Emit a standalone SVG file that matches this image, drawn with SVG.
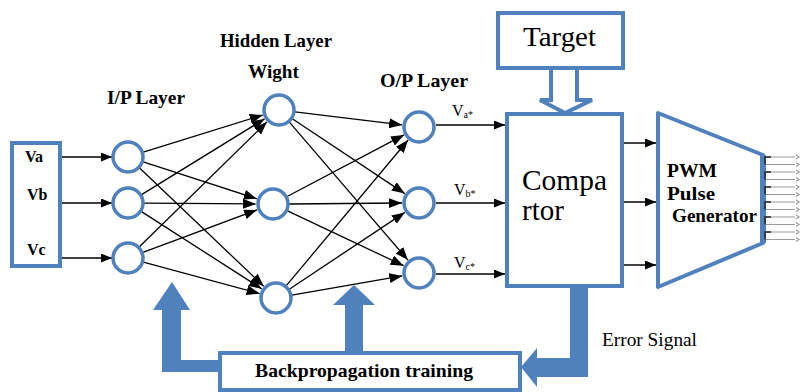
<svg xmlns="http://www.w3.org/2000/svg" width="801" height="392" viewBox="0 0 801 392">
<defs>
<style>
.box{fill:#fff;stroke:#4f81bd;stroke-width:4}
.node{fill:#fff;stroke:#4f81bd;stroke-width:3.5}
.ln{stroke:#000;stroke-width:1.3;fill:none}
.big{fill:#4f81bd;stroke:none}
.lb{font-family:'Liberation Serif','Times New Roman','DejaVu Serif',serif;font-weight:bold;fill:#000}
.rg{font-family:'Liberation Serif','Times New Roman','DejaVu Serif',serif;fill:#000}
.pin{stroke:#999;stroke-width:1.2;fill:none}
.pk{stroke:#222;stroke-width:1.4;fill:none}
</style>
<marker id="ah" markerUnits="userSpaceOnUse" markerWidth="14" markerHeight="12" refX="13" refY="5" orient="auto">
<path d="M0,0 L13,5 L0,10 Z" fill="#000"/>
</marker>
<marker id="as" markerUnits="userSpaceOnUse" markerWidth="12" markerHeight="10" refX="11" refY="4.5" orient="auto">
<path d="M0,0 L11,4.5 L0,9 Z" fill="#000"/>
</marker>
</defs>
<rect width="801" height="392" fill="#fff"/>

<g id="connectors">
<line class="ln" x1="62" y1="157" x2="112" y2="157" marker-end="url(#as)"/>
<line class="ln" x1="62" y1="203" x2="112" y2="203" marker-end="url(#as)"/>
<line class="ln" x1="62" y1="258" x2="112" y2="258" marker-end="url(#as)"/>

<line class="ln" x1="143.3" y1="152.2" x2="262.8" y2="115" marker-end="url(#ah)"/>
<line class="ln" x1="143.2" y1="161.9" x2="256.8" y2="198.8" marker-end="url(#ah)"/>
<line class="ln" x1="139.6" y1="168" x2="263.7" y2="286.3" marker-end="url(#ah)"/>
<line class="ln" x1="141.6" y1="194.6" x2="264.5" y2="118.9" marker-end="url(#ah)"/>
<line class="ln" x1="144" y1="203.1" x2="256" y2="203.9" marker-end="url(#ah)"/>
<line class="ln" x1="141.5" y1="211.6" x2="261.7" y2="288.8" marker-end="url(#ah)"/>
<line class="ln" x1="139.4" y1="246.8" x2="266.9" y2="121.9" marker-end="url(#ah)"/>
<line class="ln" x1="143" y1="252.4" x2="257.1" y2="209.9" marker-end="url(#ah)"/>
<line class="ln" x1="143.4" y1="262.2" x2="259.6" y2="293.6" marker-end="url(#ah)"/>

<line class="ln" x1="294.9" y1="111.9" x2="402.1" y2="124.9" marker-end="url(#ah)"/>
<line class="ln" x1="292.3" y1="118.8" x2="404.8" y2="193.6" marker-end="url(#ah)"/>
<line class="ln" x1="289.4" y1="122.1" x2="407.9" y2="260.1" marker-end="url(#ah)"/>
<line class="ln" x1="287.1" y1="196.5" x2="404" y2="134.9" marker-end="url(#ah)"/>
<line class="ln" x1="289" y1="204" x2="402" y2="203" marker-end="url(#ah)"/>
<line class="ln" x1="287.5" y1="210.8" x2="403.6" y2="265.7" marker-end="url(#ah)"/>
<line class="ln" x1="286.3" y1="285.7" x2="408.1" y2="140" marker-end="url(#ah)"/>
<line class="ln" x1="289.3" y1="289.2" x2="404.8" y2="212.4" marker-end="url(#ah)"/>
<line class="ln" x1="291.8" y1="295.2" x2="402.3" y2="275.9" marker-end="url(#ah)"/>

<line class="ln" x1="436" y1="125" x2="505" y2="125" marker-end="url(#as)"/>
<line class="ln" x1="436" y1="203" x2="505" y2="203" marker-end="url(#as)"/>
<line class="ln" x1="436" y1="274" x2="505" y2="274" marker-end="url(#as)"/>

<line class="ln" x1="620" y1="143" x2="656" y2="143" marker-end="url(#as)"/>
<line class="ln" x1="620" y1="202" x2="656" y2="202" marker-end="url(#as)"/>
<line class="ln" x1="620" y1="265" x2="656" y2="265" marker-end="url(#as)"/>

<path d="M551,68 L551,100 L540,100 L565,113 L592,100 L577,100 L577,68" fill="#fff" stroke="#4f81bd" stroke-width="4" stroke-linejoin="miter"/>

<path class="big" d="M172,282 L190,310 L181,310 L181,360 L222,360 L222,372 L162,372 L162,310 L153,310 Z"/>
<path class="big" d="M354,285 L375,305 L363,305 L363,354 L345,354 L345,305 L333,305 Z"/>
<path class="big" d="M570,286 L588,286 L588,377 L537,377 L537,387 L521,367 L537,348 L537,358 L570,358 Z"/>
</g>

<g id="input-box">
<rect class="box" x="12" y="143" width="48" height="123" stroke-width="3.5"/>
<text class="lb" x="25" y="162" font-size="16">Va</text>
<text class="lb" x="27" y="200" font-size="16">Vb</text>
<text class="lb" x="27" y="255" font-size="16">Vc</text>
</g>

<g id="labels">
<text class="lb" x="107" y="104" font-size="19" textLength="78" lengthAdjust="spacingAndGlyphs">I/P Layer</text>
<text class="lb" x="220" y="47" font-size="19" textLength="112" lengthAdjust="spacingAndGlyphs">Hidden Layer</text>
<text class="lb" x="248" y="78" font-size="19" textLength="51" lengthAdjust="spacingAndGlyphs">Wight</text>
<text class="lb" x="380" y="87" font-size="19" textLength="88" lengthAdjust="spacingAndGlyphs">O/P Layer</text>
<text class="rg" x="452" y="116" font-size="16">V<tspan font-size="10" dy="2">a*</tspan></text>
<text class="rg" x="454" y="195" font-size="16">V<tspan font-size="10" dy="2">b*</tspan></text>
<text class="rg" x="454" y="268" font-size="16">V<tspan font-size="10" dy="2">c*</tspan></text>
<text class="rg" x="602" y="346" font-size="19" textLength="95" lengthAdjust="spacingAndGlyphs">Error Signal</text>
</g>

<g id="input-nodes">
<circle class="node" cx="128" cy="157" r="15"/>
<circle class="node" cx="128" cy="203" r="15"/>
<circle class="node" cx="128" cy="258" r="15"/>
</g>
<g id="hidden-nodes">
<circle class="node" cx="279" cy="110" r="15"/>
<circle class="node" cx="273" cy="204" r="15"/>
<circle class="node" cx="276" cy="298" r="15"/>
</g>
<g id="output-nodes">
<circle class="node" cx="419" cy="127" r="15"/>
<circle class="node" cx="419" cy="203" r="15"/>
<circle class="node" cx="419" cy="273" r="15"/>
</g>

<g id="target">
<rect class="box" x="498" y="13" width="125" height="55"/>
<text class="rg" x="523" y="46" font-size="28" textLength="73" lengthAdjust="spacingAndGlyphs">Target</text>
</g>

<g id="comparator">
<rect class="box" x="507" y="114" width="115" height="172"/>
<text class="rg" x="522" y="190" font-size="29" textLength="85" lengthAdjust="spacingAndGlyphs">Compa</text>
<text class="rg" x="522" y="220" font-size="29">rtor</text>
</g>

<g id="pwm">
<path d="M658,113 L763,155 L763,243 L658,287 Z" fill="#fff" stroke="#4f81bd" stroke-width="4" stroke-linejoin="round"/>
<line x1="763" y1="155" x2="763" y2="243" stroke="#4f81bd" stroke-width="6"/>
<text class="lb" x="667" y="177" font-size="18" textLength="50" lengthAdjust="spacingAndGlyphs">PWM</text>
<text class="lb" x="667" y="200" font-size="18" textLength="48" lengthAdjust="spacingAndGlyphs">Pulse</text>
<text class="lb" x="672" y="222" font-size="18" textLength="85" lengthAdjust="spacingAndGlyphs">Generator</text>
<g>
<path class="pin" d="M766,157 H795 M766,164.5 H795 M766,172 H795 M766,179.5 H795 M766,187 H795 M766,194.5 H795 M766,202 H795 M766,209.5 H795 M766,217 H795 M766,224.5 H795 M766,232 H795 M766,239.5 H795"/>
<path class="pk" d="M771,157 H765 V164.5 M771,172 H765 V179.5 M771,187 H765 V194.5 M771,202 H765 V209.5 M771,217 H765 V224.5 M771,232 H765 V239.5"/>
<path class="pin" stroke-width="0.8" d="M796,155 l3,2 l-3,2 M796,162.5 l3,2 l-3,2 M796,170 l3,2 l-3,2 M796,177.5 l3,2 l-3,2 M796,185 l3,2 l-3,2 M796,192.5 l3,2 l-3,2 M796,200 l3,2 l-3,2 M796,207.5 l3,2 l-3,2 M796,215 l3,2 l-3,2 M796,222.5 l3,2 l-3,2 M796,230 l3,2 l-3,2 M796,237.5 l3,2 l-3,2"/>
</g>
</g>

<g id="backprop">
<rect class="box" x="220" y="353" width="300" height="37" stroke-width="3"/>
<text class="lb" x="255" y="377" font-size="19" textLength="218" lengthAdjust="spacingAndGlyphs">Backpropagation training</text>
</g>
</svg>
